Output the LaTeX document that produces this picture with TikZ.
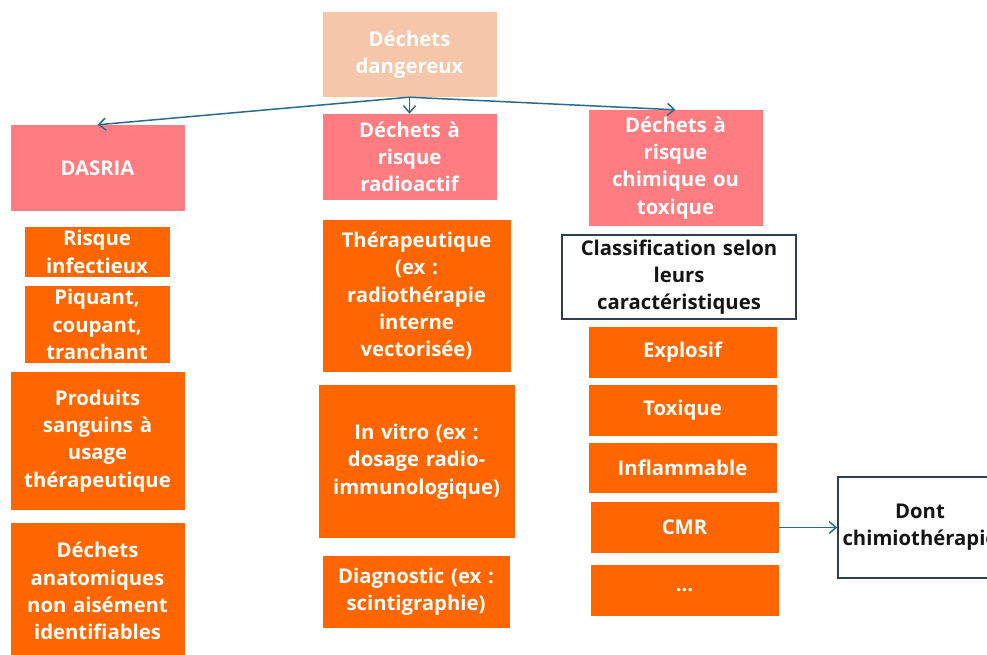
\documentclass[tikz,border=0pt]{standalone}
\usepackage{fontspec}
\setmainfont{Open Sans}
\usetikzlibrary{arrows.meta}
\definecolor{peach}{HTML}{F5C6AA}
\definecolor{pinkc}{HTML}{FF7C80}
\definecolor{orangec}{HTML}{FF6600}
\definecolor{arrowc}{HTML}{2C6A8C}
\definecolor{borderc}{HTML}{2F3F55}
\definecolor{textdark}{HTML}{151515}
\tikzset{
  base/.style={inner sep=2pt, align=center, font=\fontsize{20.3}{27.3}\selectfont\bfseries, text=white},
  peachbox/.style={base, fill=peach},
  pinkbox/.style={base, fill=pinkc},
  orangebox/.style={base, fill=orangec},
  whitebox/.style={base, fill=white, draw=borderc, line width=1.6pt, text=textdark},
  arr/.style={draw=arrowc, line width=1.5pt, -{Straight Barb[length=7pt,width=12pt]}},
}
\begin{document}
\begin{tikzpicture}[x=1pt,y=1pt]
\useasboundingbox (0,0) rectangle (987,-655);
% top
\node[peachbox, minimum width=173pt, minimum height=85pt, text width=170pt] (top) at (409.5,-54.5) {Déchets\\dangereux};
% level 2
\node[pinkbox, minimum width=173pt, minimum height=86pt, text width=170pt] (dasria) at (97.5,-168) {DASRIA};
\node[pinkbox, minimum width=173pt, minimum height=86pt, text width=170pt] (radio) at (409.5,-157) {Déchets à\\risque\\radioactif};
\node[pinkbox, minimum width=173pt, minimum height=116pt, text width=170pt] (chim) at (675.5,-168) {Déchets à\\risque\\chimique ou\\toxique};
% left column
\node[orangebox, minimum width=144pt, minimum height=50pt, text width=141pt] (infect) at (97,-252) {Risque\\infectieux};
\node[orangebox, minimum width=144pt, minimum height=77pt, text width=141pt] (piq) at (97,-324.5) {Piquant,\\coupant,\\tranchant};
\node[orangebox, minimum width=173pt, minimum height=138pt, text width=170pt] (prod) at (97.5,-441) {Produits\\sanguins à\\usage\\thérapeutique};
\node[orangebox, minimum width=173pt, minimum height=136pt, text width=170pt] (anat) at (97.5,-591) {Déchets\\anatomiques\\non aisément\\identifiables};
% middle column
\node[orangebox, minimum width=187pt, minimum height=152pt, text width=184pt] (ther) at (416.5,-296) {Thérapeutique\\(ex :\\radiothérapie\\interne\\vectorisée)};
\node[orangebox, minimum width=195pt, minimum height=153pt, text width=192pt] (vitro) at (416.5,-461.5) {In vitro (ex :\\dosage radio-\\immunologique)};
\node[orangebox, minimum width=186pt, minimum height=72pt, text width=183pt] (diag) at (416,-592) {Diagnostic (ex :\\scintigraphie)};
% right column
\node[whitebox, minimum width=234pt, minimum height=84pt, text width=230pt] (classif) at (679,-277) {Classification selon\\leurs\\caractéristiques};
\node[orangebox, minimum width=187pt, minimum height=51pt, text width=184pt] (expl) at (682.5,-352.5) {Explosif};
\node[orangebox, minimum width=187pt, minimum height=51pt, text width=184pt] (tox) at (682.5,-410.5) {Toxique};
\node[orangebox, minimum width=187pt, minimum height=50pt, text width=184pt] (infl) at (682.5,-468) {Inflammable};
\node[orangebox, minimum width=187pt, minimum height=51pt, text width=184pt] (cmr) at (684.5,-527.5) {CMR};
\node[orangebox, minimum width=187pt, minimum height=51pt, text width=184pt] (dots) at (684.5,-590.5) {...};
\node[whitebox, minimum width=161pt, minimum height=101pt, text width=160pt] (dont) at (920,-527.5) {Dont\\chimiothérapie};
% connectors
\draw[arr] (top.south) -- (dasria.north);
\draw[arr] (top.south) -- (radio.north);
\draw[arr] (top.south) -- (chim.north);
\draw[arr] (cmr.east) -- (dont.west);
\end{tikzpicture}
\end{document}
